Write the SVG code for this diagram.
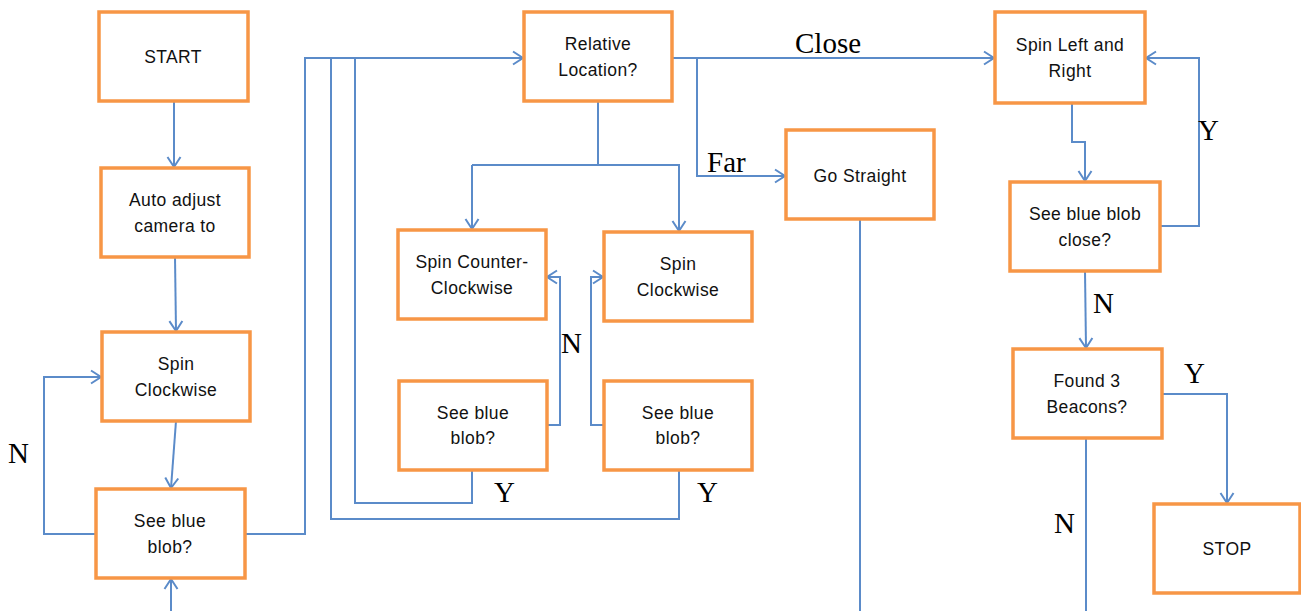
<svg xmlns="http://www.w3.org/2000/svg" width="1301" height="611" viewBox="0 0 1301 611">
<defs>
<marker id="ah" markerUnits="userSpaceOnUse" markerWidth="14" markerHeight="16" viewBox="0 0 14 16" refX="12" refY="8" orient="auto">
<path d="M2,1.5 L12,8 L2,14.5" fill="none" stroke="#5B8BC9" stroke-width="2"/>
</marker>
<style>
.box{fill:#fff;stroke:#F79646;stroke-width:3.5}
.t{font-family:"Liberation Sans",Arial,sans-serif;font-size:17.5px;letter-spacing:0.4px;fill:#111;text-anchor:middle}
.c{fill:none;stroke:#5B8BC9;stroke-width:2}
.a{marker-end:url(#ah)}
.l{font-family:"Liberation Serif","Times New Roman",serif;font-size:29px;fill:#000}
</style>
</defs>
<rect width="1301" height="611" fill="#fff"/>
<g id="connectors">
<path class="c a" d="M174,101 L174,167"/>
<path class="c a" d="M175,257 L176,331"/>
<path class="c a" d="M176,421 L171,488"/>
<path class="c a" d="M96,534 L44,534 L44,377 L101,377"/>
<path class="c a" d="M245,534 L305,534 L305,58 L523,58"/>
<path class="c a" d="M171,611 L171,579"/>
<path class="c" d="M331,58 L331,519 L679,519 L679,470"/>
<path class="c" d="M355,58 L355,503 L472,503 L472,470"/>
<path class="c" d="M598,101 L598,165"/>
<path class="c a" d="M472,165 L679,165 L679,231"/>
<path class="c a" d="M472,165 L472,229"/>
<path class="c a" d="M547,425 L560,425 L560,277 L547,277"/>
<path class="c a" d="M604,425 L591,425 L591,277 L603,277"/>
<path class="c a" d="M672,58 L994,58"/>
<path class="c a" d="M697,58 L697,176 L785,176"/>
<path class="c" d="M860,219 L860,611"/>
<path class="c a" d="M1072,103 L1072,142 L1085,142 L1085,181"/>
<path class="c a" d="M1160,226 L1199,226 L1199,58 L1146,58"/>
<path class="c a" d="M1085,271 L1086,348"/>
<path class="c a" d="M1162,394 L1227,394 L1227,503"/>
<path class="c" d="M1086,438 L1086,611"/>
<text class="l" x="8" y="463">N</text>
<text class="l" x="494" y="502">Y</text>
<text class="l" x="697" y="502">Y</text>
<text class="l" x="561" y="353">N</text>
<text class="l" x="795" y="53">Close</text>
<text class="l" x="707" y="172">Far</text>
<text class="l" x="1198" y="140">Y</text>
<text class="l" x="1093" y="313">N</text>
<text class="l" x="1184" y="383">Y</text>
<text class="l" x="1054" y="533">N</text>
</g>
<g id="start"><rect class="box" x="99" y="12" width="149" height="89"/><text class="t" x="173" y="63">START</text></g>
<g id="auto"><rect class="box" x="101" y="168" width="148" height="89"/><text class="t" x="175" y="206">Auto adjust</text><text class="t" x="175" y="232">camera to</text></g>
<g id="spincw1"><rect class="box" x="102" y="332" width="148" height="89"/><text class="t" x="176" y="370">Spin</text><text class="t" x="176" y="396">Clockwise</text></g>
<g id="blob1"><rect class="box" x="96" y="489" width="149" height="89"/><text class="t" x="170" y="527">See blue</text><text class="t" x="170" y="553">blob?</text></g>
<g id="relloc"><rect class="box" x="524" y="12" width="148" height="89"/><text class="t" x="598" y="50">Relative</text><text class="t" x="598" y="76">Location?</text></g>
<g id="spinccw"><rect class="box" x="398" y="230" width="148" height="89"/><text class="t" x="472" y="268">Spin Counter-</text><text class="t" x="472" y="294">Clockwise</text></g>
<g id="spincw2"><rect class="box" x="604" y="232" width="148" height="89"/><text class="t" x="678" y="270">Spin</text><text class="t" x="678" y="296">Clockwise</text></g>
<g id="blob2"><rect class="box" x="399" y="381" width="148" height="89"/><text class="t" x="473" y="419">See blue</text><text class="t" x="473" y="444">blob?</text></g>
<g id="blob3"><rect class="box" x="604" y="381" width="148" height="89"/><text class="t" x="678" y="419">See blue</text><text class="t" x="678" y="444">blob?</text></g>
<g id="straight"><rect class="box" x="786" y="130" width="148" height="89"/><text class="t" x="860" y="182">Go Straight</text></g>
<g id="spinlr"><rect class="box" x="995" y="12" width="150" height="91"/><text class="t" x="1070" y="51">Spin Left and</text><text class="t" x="1070" y="77">Right</text></g>
<g id="blobclose"><rect class="box" x="1010" y="182" width="150" height="89"/><text class="t" x="1085" y="220">See blue blob</text><text class="t" x="1085" y="246">close?</text></g>
<g id="found3"><rect class="box" x="1013" y="349" width="149" height="89"/><text class="t" x="1087" y="387">Found 3</text><text class="t" x="1087" y="413">Beacons?</text></g>
<g id="stop"><rect class="box" x="1154" y="504" width="146" height="89"/><text class="t" x="1227" y="555">STOP</text></g>
</svg>
